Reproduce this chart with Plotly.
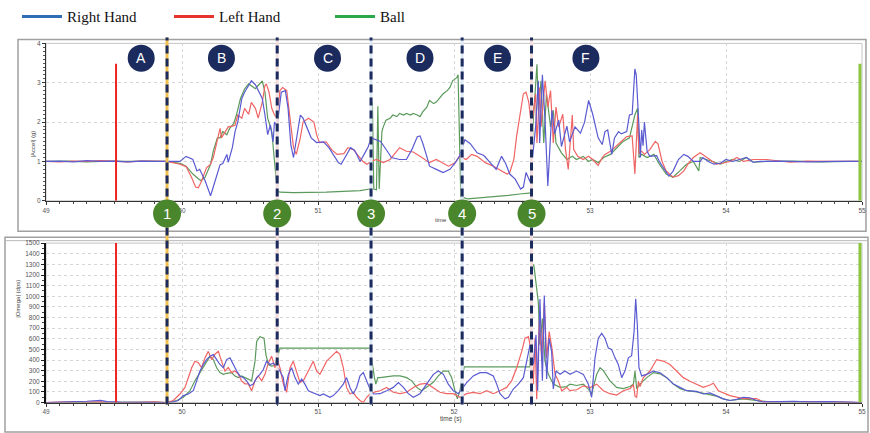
import plotly.graph_objects as go

W, H = 870, 433

# ---- |Accel| (g) : (time s, value) ----
acc_right = [
    (49.00, 1.00), (49.10, 1.01), (49.20, 0.99), (49.30, 1.02), (49.40, 1.00), (49.50, 1.01), (49.60, 0.99),
    (49.70, 1.01), (49.80, 1.00), (49.89, 1.00),
    (49.985, 1.00), (50.03, 1.13), (50.08, 1.05), (50.11, 0.76), (50.13, 0.80), (50.17, 0.51), (50.21, 0.13),
    (50.23, 0.35), (50.26, 0.68), (50.28, 0.92), (50.30, 0.95), (50.33, 1.18), (50.34, 0.98), (50.37, 1.35),
    (50.39, 1.76), (50.41, 2.00), (50.44, 2.60), (50.46, 2.76), (50.49, 2.93), (50.51, 3.05), (50.54, 2.95),
    (50.56, 2.80), (50.59, 2.60), (50.61, 2.18), (50.63, 1.68), (50.65, 1.93), (50.67, 1.50), (50.68, 2.00),
    (50.70, 1.90),
    (50.73, 2.76), (50.76, 2.80), (50.78, 2.35), (50.80, 1.43), (50.82, 1.10), (50.84, 1.50), (50.87, 2.18),
    (50.89, 2.10), (50.92, 1.85), (50.95, 1.60), (50.99, 1.48), (51.04, 1.50), (51.08, 1.35), (51.11, 1.18),
    (51.15, 0.97), (51.17, 0.93), (51.21, 1.18), (51.24, 1.35), (51.27, 1.28), (51.31, 1.00), (51.35, 1.25),
    (51.37, 1.38), (51.39, 1.60),
    (51.46, 1.51), (51.51, 1.26), (51.54, 1.10), (51.60, 1.05), (51.65, 1.05), (51.69, 1.30), (51.73, 1.63),
    (51.75, 1.65), (51.77, 1.47), (51.80, 1.13), (51.82, 0.88), (51.87, 0.80), (51.92, 0.72), (51.97, 0.80),
    (52.01, 0.97), (52.04, 1.13),
    (52.08, 1.55), (52.12, 1.45), (52.17, 1.22), (52.22, 1.15), (52.26, 1.00), (52.31, 0.80), (52.35, 1.13),
    (52.38, 0.95), (52.41, 0.68), (52.45, 0.55), (52.49, 0.30), (52.51, 0.35), (52.53, 0.72), (52.56, 0.48),
    (52.60, 1.88), (52.62, 3.05), (52.63, 1.47), (52.65, 3.20), (52.67, 2.00), (52.69, 0.38), (52.72, 2.30),
    (52.74, 1.70), (52.77, 2.05), (52.79, 1.38), (52.83, 1.90), (52.85, 1.50), (52.89, 1.88), (52.93, 1.72),
    (52.96, 2.00), (52.99, 2.55), (53.02, 2.20), (53.06, 1.60),
    (53.09, 1.43), (53.11, 1.76), (53.13, 1.80), (53.16, 1.18), (53.18, 1.60), (53.21, 1.76), (53.23, 1.70),
    (53.27, 1.76), (53.29, 2.18), (53.31, 2.20), (53.33, 3.35), (53.34, 3.20), (53.36, 1.90), (53.37, 1.10),
    (53.38, 1.80), (53.39, 1.40), (53.40, 2.00), (53.42, 1.26), (53.44, 1.13), (53.49, 1.15), (53.51, 1.00),
    (53.54, 0.84), (53.58, 0.63), (53.61, 0.75), (53.65, 1.05), (53.69, 1.18), (53.72, 1.13), (53.76, 1.00),
    (53.81, 1.00), (53.83, 1.10), (53.87, 1.00), (53.91, 0.93), (53.96, 0.96), (54.00, 1.05), (54.05, 1.00),
    (54.10, 1.05), (54.15, 1.10), (54.20, 0.98), (54.25, 1.00), (54.40, 1.01), (54.60, 0.99), (54.80, 1.00),
    (55.00, 1.00),
]

acc_left = [
    (49.00, 1.00), (49.10, 0.99), (49.20, 1.01), (49.30, 1.00), (49.40, 1.02), (49.50, 1.00), (49.60, 0.99),
    (49.70, 1.01), (49.80, 1.00), (49.89, 1.00),
    (49.985, 0.93), (50.03, 0.87), (50.07, 0.60), (50.10, 0.35), (50.12, 0.33), (50.14, 0.47), (50.18, 0.84),
    (50.21, 0.93), (50.23, 1.10), (50.26, 1.50), (50.28, 1.84), (50.29, 1.60), (50.32, 1.76), (50.34, 1.88),
    (50.37, 1.90), (50.39, 1.92), (50.41, 2.18), (50.44, 2.10), (50.46, 2.35), (50.49, 2.20), (50.51, 2.50),
    (50.54, 2.35), (50.56, 2.10), (50.59, 2.50), (50.61, 2.93), (50.62, 2.97), (50.64, 2.76), (50.66, 2.35),
    (50.68, 2.18), (50.70, 2.10),
    (50.72, 2.80), (50.74, 2.88), (50.77, 2.80), (50.79, 2.18), (50.82, 1.35), (50.84, 1.18), (50.87, 1.60),
    (50.89, 2.00), (50.93, 2.10), (50.97, 2.00), (50.99, 1.68), (51.01, 1.48), (51.06, 1.50), (51.10, 1.30),
    (51.14, 1.18), (51.19, 1.20), (51.22, 1.35), (51.26, 1.30), (51.30, 1.13), (51.33, 1.00), (51.36, 0.93),
    (51.39, 1.00),
    (51.43, 1.05), (51.48, 0.97), (51.53, 1.05), (51.60, 1.35), (51.65, 1.26), (51.70, 1.24), (51.75, 1.13),
    (51.79, 1.05), (51.82, 0.97), (51.87, 1.05), (51.91, 0.97), (51.96, 0.88), (52.01, 0.97), (52.04, 1.13),
    (52.09, 1.05), (52.13, 1.18), (52.17, 1.13), (52.23, 0.97), (52.29, 0.88), (52.35, 0.76), (52.39, 0.68),
    (52.41, 0.72), (52.44, 1.05), (52.46, 1.63), (52.49, 2.30), (52.51, 2.72), (52.53, 2.76), (52.55, 2.50),
    (52.57, 1.88),
    (52.60, 2.72), (52.61, 1.47), (52.63, 2.88), (52.64, 1.88), (52.67, 3.05), (52.69, 2.38), (52.71, 2.80),
    (52.73, 1.47), (52.75, 2.38), (52.77, 1.88), (52.80, 2.20), (52.82, 1.30), (52.84, 0.80), (52.87, 2.18),
    (52.88, 1.30), (52.91, 1.13), (52.95, 1.05), (52.99, 1.13), (53.02, 1.05), (53.06, 0.90),
    (53.09, 1.10), (53.11, 1.18), (53.15, 1.26), (53.18, 1.35), (53.23, 1.51), (53.27, 1.63), (53.31, 1.65),
    (53.33, 0.68), (53.35, 2.18), (53.36, 1.20), (53.38, 1.26), (53.40, 1.18), (53.44, 1.30), (53.48, 1.51),
    (53.50, 1.45), (53.53, 1.00), (53.56, 0.76), (53.61, 0.60), (53.65, 0.64), (53.69, 0.76), (53.72, 0.93),
    (53.76, 1.10), (53.81, 1.22), (53.85, 1.13), (53.88, 1.05), (53.93, 0.93), (53.98, 0.96), (54.03, 1.00),
    (54.08, 1.10), (54.13, 1.00), (54.20, 1.05), (54.30, 1.05), (54.47, 0.98), (54.60, 1.01), (54.80, 1.00),
    (55.00, 1.00),
]

acc_ball = [
    (49.00, 1.00), (49.15, 1.01), (49.30, 0.99), (49.45, 1.01), (49.60, 1.00), (49.75, 1.01), (49.89, 1.00),
    (49.985, 0.95), (50.03, 0.88), (50.08, 0.68), (50.12, 0.56), (50.14, 0.51), (50.17, 0.60), (50.21, 0.93),
    (50.23, 1.26), (50.26, 1.60), (50.28, 1.60), (50.30, 1.76), (50.33, 1.68), (50.35, 1.84), (50.38, 1.96),
    (50.40, 2.18), (50.43, 2.60), (50.46, 2.84), (50.49, 2.97), (50.51, 2.93), (50.54, 2.85), (50.56, 2.93),
    (50.59, 3.05), (50.61, 2.76), (50.63, 2.10), (50.66, 1.76), (50.68, 1.10), (50.70, 0.26), (50.72, 0.22),
    (50.82, 0.21), (51.06, 0.22), (51.31, 0.26), (51.38, 0.30),
    (51.39, 0.30), (51.40, 2.50), (51.41, 0.30), (51.43, 0.28), (51.44, 2.40), (51.45, 0.30), (51.47, 1.76),
    (51.48, 1.88), (51.50, 2.05), (51.53, 2.10), (51.55, 2.18), (51.58, 2.14), (51.60, 2.22), (51.63, 2.18),
    (51.65, 2.22), (51.68, 2.18), (51.70, 2.22), (51.73, 2.18), (51.75, 2.14), (51.77, 2.26), (51.80, 2.38),
    (51.82, 2.55), (51.85, 2.47), (51.87, 2.51), (51.90, 2.63), (51.92, 2.72), (51.95, 2.80), (51.97, 2.88),
    (51.99, 3.05), (52.02, 3.13), (52.03, 3.20), (52.04, 1.90), (52.05, 0.10),
    (52.10, 0.05), (52.20, 0.08), (52.30, 0.10), (52.40, 0.14), (52.50, 0.18), (52.57, 0.20),
    (52.58, 1.88), (52.61, 3.47), (52.62, 2.30), (52.64, 3.05), (52.66, 1.47), (52.68, 2.72), (52.71, 1.88),
    (52.73, 2.30), (52.75, 1.47), (52.79, 1.22), (52.83, 1.05), (52.87, 1.13), (52.90, 1.05), (52.95, 1.13),
    (52.99, 1.00), (53.02, 1.05), (53.06, 0.97),
    (53.10, 1.10), (53.15, 1.18), (53.20, 1.35), (53.24, 1.50), (53.29, 1.60), (53.33, 2.18), (53.35, 2.35),
    (53.36, 1.10), (53.38, 1.18), (53.42, 1.10), (53.47, 1.18), (53.51, 0.93), (53.56, 0.68), (53.61, 0.60),
    (53.66, 0.76), (53.71, 0.93), (53.76, 1.00), (53.80, 0.76), (53.81, 1.10), (53.86, 1.05), (53.91, 1.00),
    (53.96, 0.93), (54.00, 1.00), (54.05, 1.05), (54.10, 1.00), (54.15, 1.10), (54.20, 0.98), (54.30, 1.00),
    (54.50, 1.01), (54.70, 0.99), (54.90, 1.00), (55.00, 1.00),
]

# ---- |Omega| (dps) : (time s, value) ----
omega_right = [
    (49.00, 0), (49.10, 3), (49.20, 6), (49.30, 12), (49.40, 20), (49.45, 8), (49.55, 3), (49.65, 5),
    (49.75, 2), (49.887, 0),
    (49.936, 5), (49.973, 19), (50.010, 65), (50.046, 80), (50.083, 111), (50.108, 204), (50.132, 296),
    (50.157, 358), (50.181, 404), (50.206, 435), (50.230, 451), (50.255, 404), (50.279, 358), (50.304, 327),
    (50.328, 404), (50.353, 420), (50.377, 358), (50.402, 296), (50.426, 250), (50.451, 234), (50.475, 204),
    (50.500, 157), (50.524, 173), (50.549, 234), (50.573, 265), (50.598, 310), (50.622, 389), (50.647, 358),
    (50.671, 370), (50.696, 343),
    (50.720, 296), (50.745, 234), (50.757, 111), (50.782, 265), (50.806, 327), (50.831, 234), (50.855, 173),
    (50.880, 220), (50.904, 173), (50.929, 111), (50.953, 96), (50.990, 80), (51.014, 65), (51.039, 80),
    (51.063, 65), (51.088, 49), (51.112, 65), (51.149, 111), (51.186, 173), (51.210, 234), (51.235, 142),
    (51.259, 80), (51.284, 142), (51.309, 250), (51.333, 281), (51.358, 204), (51.382, 127), (51.407, 80),
    (51.456, 83), (51.505, 111), (51.554, 142), (51.591, 188), (51.628, 142), (51.664, 83), (51.701, 49),
    (51.750, 83), (51.799, 173), (51.848, 265), (51.885, 296), (51.922, 265), (51.958, 173), (51.995, 111),
    (52.032, 83), (52.056, 127),
    (52.093, 188), (52.142, 250), (52.191, 281), (52.240, 281), (52.289, 250), (52.314, 173), (52.338, 83),
    (52.375, 34), (52.400, 49), (52.436, 127), (52.473, 173), (52.510, 234), (52.534, 389), (52.559, 543),
    (52.583, 358), (52.603, 636), (52.615, 111), (52.632, 975), (52.650, 204), (52.664, 1006), (52.681, 222),
    (52.699, 605), (52.718, 481), (52.730, 127), (52.750, 296), (52.780, 265), (52.816, 296), (52.853, 265),
    (52.902, 296), (52.951, 265), (52.988, 173), (53.012, 49), (53.037, 420), (53.061, 605), (53.086, 651),
    (53.110, 605), (53.135, 512), (53.159, 500), (53.184, 420), (53.208, 358), (53.233, 234), (53.257, 296),
    (53.282, 420), (53.306, 440), (53.324, 667), (53.336, 975), (53.348, 729), (53.360, 327), (53.380, 250),
    (53.417, 265), (53.466, 296), (53.515, 280), (53.564, 234), (53.613, 173), (53.662, 142), (53.711, 111),
    (53.784, 105), (53.833, 80), (53.882, 90), (53.931, 60), (53.980, 34), (54.029, 19), (54.078, 30),
    (54.127, 49), (54.176, 45), (54.225, 19), (54.275, 5), (54.40, 8), (54.50, 12), (54.60, 5), (54.75, 8),
    (54.90, 3), (55.00, 0),
]

omega_left = [
    (49.00, 0), (49.10, 5), (49.20, 8), (49.30, 3), (49.40, 6), (49.515, 0), (49.60, 4), (49.70, 2),
    (49.80, 5), (49.887, 0),
    (49.936, 19), (49.985, 80), (50.022, 142), (50.046, 234), (50.071, 327), (50.095, 389), (50.120, 375),
    (50.144, 327), (50.169, 420), (50.193, 481), (50.218, 404), (50.242, 454), (50.267, 481), (50.291, 389),
    (50.316, 296), (50.340, 330), (50.365, 281), (50.389, 296), (50.414, 268), (50.438, 204), (50.463, 176),
    (50.487, 176), (50.512, 111), (50.537, 204), (50.561, 250), (50.586, 204), (50.610, 265), (50.635, 373),
    (50.659, 435), (50.684, 327), (50.701, 404),
    (50.720, 327), (50.745, 176), (50.769, 96), (50.794, 327), (50.818, 389), (50.843, 296), (50.867, 190),
    (50.892, 204), (50.916, 265), (50.941, 327), (50.965, 389), (50.990, 296), (51.014, 265), (51.039, 327),
    (51.063, 389), (51.088, 420), (51.112, 454), (51.137, 481), (51.161, 454), (51.186, 327), (51.210, 142),
    (51.235, 80), (51.259, 96), (51.284, 49), (51.309, 19), (51.333, 0), (51.358, 49), (51.382, 80),
    (51.420, 100), (51.456, 111), (51.505, 142), (51.554, 96), (51.603, 83), (51.652, 96), (51.701, 142),
    (51.750, 173), (51.799, 180), (51.848, 142), (51.897, 96), (51.946, 83), (51.995, 83), (52.044, 49),
    (52.093, 83), (52.142, 96), (52.191, 83), (52.240, 111), (52.289, 83), (52.338, 111), (52.387, 142),
    (52.424, 204), (52.461, 327), (52.498, 481), (52.522, 605), (52.547, 620), (52.559, 543),
    (52.583, 173), (52.596, 605), (52.608, 30), (52.628, 790), (52.645, 389), (52.664, 944), (52.681, 420),
    (52.700, 667), (52.720, 512), (52.743, 265), (52.767, 204), (52.792, 111), (52.829, 142), (52.853, 111),
    (52.902, 120), (52.951, 157), (53.000, 140), (53.049, 173), (53.098, 111), (53.147, 83), (53.196, 70),
    (53.245, 111), (53.294, 130), (53.319, 167), (53.331, 60), (53.343, 49), (53.356, 200), (53.368, 150),
    (53.392, 234), (53.441, 296), (53.490, 404), (53.539, 390), (53.588, 358), (53.637, 296), (53.686, 234),
    (53.735, 200), (53.784, 173), (53.833, 142), (53.882, 165), (53.907, 181), (53.944, 111), (53.980, 90),
    (54.029, 65), (54.078, 50), (54.127, 37), (54.225, 37), (54.275, 5), (54.373, 8), (54.471, 10),
    (54.569, 5), (54.70, 8), (54.85, 3), (55.00, 0),
]

omega_ball = [
    (49.00, 0), (49.20, 2), (49.40, 4), (49.60, 2), (49.80, 3), (49.887, 0),
    (49.961, 19), (50.010, 49), (50.059, 111), (50.095, 204), (50.132, 281), (50.169, 358), (50.206, 435),
    (50.230, 404), (50.255, 327), (50.279, 281), (50.304, 265), (50.328, 275), (50.365, 281), (50.389, 250),
    (50.414, 234), (50.438, 250), (50.463, 234), (50.487, 220), (50.512, 204), (50.537, 389), (50.549, 574),
    (50.573, 620), (50.603, 605), (50.617, 451), (50.635, 358), (50.659, 343), (50.684, 350), (50.701, 420),
    (50.720, 512), (51.382, 512),
    (51.395, 400), (51.405, 296), (51.415, 234), (51.425, 173), (51.440, 234), (51.456, 234), (51.505, 245),
    (51.554, 250), (51.603, 250), (51.652, 234), (51.689, 204), (51.726, 142), (51.762, 111), (51.799, 142),
    (51.848, 190), (51.885, 250), (51.922, 296), (51.958, 296), (51.983, 234), (52.007, 111), (52.025, 34),
    (52.044, 111), (52.064, 234), (52.075, 335), (52.559, 335),
    (52.571, 1315), (52.588, 1284), (52.603, 1130), (52.620, 944), (52.632, 543), (52.650, 790), (52.669, 389),
    (52.694, 265), (52.730, 173), (52.780, 142), (52.829, 150), (52.853, 173), (52.902, 160), (52.951, 173),
    (52.988, 127), (53.012, 80), (53.049, 265), (53.074, 327), (53.098, 300), (53.147, 204), (53.196, 142),
    (53.245, 130), (53.294, 150), (53.319, 173), (53.331, 296), (53.343, 130), (53.368, 173), (53.417, 234),
    (53.466, 281), (53.515, 270), (53.564, 234), (53.613, 173), (53.662, 130), (53.711, 111), (53.784, 100),
    (53.858, 80), (53.931, 60), (53.980, 34), (54.029, 19), (54.127, 34), (54.225, 19), (54.324, 5),
    (54.50, 8), (54.70, 5), (55.00, 0),
]

# start / stop markers of the recording window
marker_times = [49.515, 54.985]
marker_acc_height = 3.48
marker_omega_height = 1500

# throw events (dashed lines, numbered) and phases between them (lettered)
event_times = [49.89, 50.70, 51.39, 52.06, 52.57]
event_labels = ["1", "2", "3", "4", "5"]
phase_times = [49.70, 50.29, 51.07, 51.75, 52.32, 52.97]
phase_labels = ["A", "B", "C", "D", "E", "F"]

series_names = ["Right Hand", "Left Hand", "Ball"]
legend_colors = ["#2f6db5", "#e8322e", "#2aa84a"]
line_colors = ["#5a5ad2", "#f06464", "#5c9a5c"]

acc_ticks = [0, 1, 2, 3, 4]
omega_ticks = list(range(0, 1501, 100))
time_ticks = [49, 50, 51, 52, 53, 54, 55]

NAVY = "#1c2b5e"
GREEN_BADGE = "#4a862c"
GRID = "#d6d6d6"
TICK_FONT = dict(family="Liberation Sans", size=6.5, color="#555555")


def px_x(p):
    return p / W


def px_y(p):
    return 1 - p / H


fig = go.Figure()


def add_series(pairs, color, xa, ya):
    fig.add_trace(go.Scatter(
        x=[p[0] for p in pairs], y=[p[1] for p in pairs], mode="lines",
        line=dict(color=color, width=1.2), xaxis=xa, yaxis=ya,
        showlegend=False, hoverinfo="skip"))


# draw order: ball, left hand, right hand
add_series(acc_ball, line_colors[2], "x", "y")
add_series(acc_left, line_colors[1], "x", "y")
add_series(acc_right, line_colors[0], "x", "y")
add_series(omega_ball, line_colors[2], "x2", "y2")
add_series(omega_left, line_colors[1], "x2", "y2")
add_series(omega_right, line_colors[0], "x2", "y2")

# recording window markers
for t, col, w in zip(marker_times, ["#ee2222", "#8cc63f"], [2, 3]):
    fig.add_trace(go.Scatter(x=[t, t], y=[0, marker_acc_height], mode="lines",
                             line=dict(color=col, width=w), xaxis="x", yaxis="y",
                             showlegend=False, hoverinfo="skip"))
    fig.add_trace(go.Scatter(x=[t, t], y=[0, marker_omega_height], mode="lines",
                             line=dict(color=col, width=w), xaxis="x2", yaxis="y2",
                             showlegend=False, hoverinfo="skip"))

# legend entries (one legend box per entry so they can be spaced freely)
legend_names = ["legend", "legend2", "legend3"]
for name, col, lg in zip(series_names, legend_colors, legend_names):
    fig.add_trace(go.Scatter(x=[None], y=[None], mode="lines", name=name,
                             line=dict(color=col, width=3), legend=lg,
                             xaxis="x", yaxis="y"))

legend_x = [17, 169, 330]
legend_common = dict(orientation="h", y=px_y(10), yanchor="middle", xanchor="left",
                     font=dict(family="Liberation Serif", size=15, color="#111111"),
                     bgcolor="rgba(0,0,0,0)", borderwidth=0, itemwidth=40)

shapes = []
# panel frames
shapes.append(dict(type="rect", xref="paper", yref="paper", x0=px_x(18), x1=px_x(866),
                   y0=px_y(228), y1=px_y(33), line=dict(color="#a0a0a0", width=1.5), layer="below"))
shapes.append(dict(type="rect", xref="paper", yref="paper", x0=px_x(5), x1=px_x(868),
                   y0=px_y(432), y1=px_y(234), line=dict(color="#a0a0a0", width=1.5), layer="below"))
shapes.append(dict(type="line", xref="paper", yref="paper", x0=px_x(5), x1=px_x(868),
                   y0=px_y(237.5), y1=px_y(237.5), line=dict(color="#b8b8b8", width=1), layer="below"))
# plot-area border (light)
for xr, yr in [("x domain", "y domain"), ("x2 domain", "y2 domain")]:
    shapes.append(dict(type="rect", xref=xr, yref=yr, x0=0, x1=1, y0=0, y1=1,
                       line=dict(color="#c4c4c4", width=1), layer="below"))

# event lines
under_colors = ["#f2c14e", "#f3dede", "#dfe9f4", "#dfe9f4", "#f3dede"]
for t, uc in zip(event_times, under_colors):
    shapes.append(dict(type="line", xref="x", yref="paper", x0=t, x1=t, y0=px_y(404), y1=px_y(31),
                       line=dict(color=uc, width=3)))
    shapes.append(dict(type="line", xref="x", yref="paper", x0=t, x1=t, y0=px_y(404), y1=px_y(31),
                       line=dict(color=NAVY, width=3, dash="8px,5px")))

annotations = []
# phase badges
for t, lab in zip(phase_times, phase_labels):
    shapes.append(dict(type="circle", xref="x", yref="paper", xsizemode="pixel", ysizemode="pixel",
                       xanchor=t, yanchor=px_y(52), x0=-13.5, x1=13.5, y0=-13.5, y1=13.5,
                       fillcolor=NAVY, line=dict(width=0)))
    annotations.append(dict(x=t, y=px_y(52), xref="x", yref="paper", text=lab, showarrow=False,
                            font=dict(family="Liberation Sans", size=14, color="white"),
                            xanchor="center", yanchor="middle"))
# event badges
for t, lab in zip(event_times, event_labels):
    shapes.append(dict(type="circle", xref="x", yref="paper", xsizemode="pixel", ysizemode="pixel",
                       xanchor=t, yanchor=px_y(210), x0=-14, x1=14, y0=-14, y1=14,
                       fillcolor=GREEN_BADGE, line=dict(width=0)))
    annotations.append(dict(x=t, y=px_y(210), xref="x", yref="paper", text=lab, showarrow=False,
                            font=dict(family="Liberation Sans", size=15, color="white"),
                            xanchor="center", yanchor="middle"))

# axis titles
annotations.append(dict(x=px_x(28), y=px_y(124), xref="paper", yref="paper", text="|Accel| (g)",
                        textangle=-90, showarrow=False, font=dict(family="Liberation Sans", size=6, color="#444")))
annotations.append(dict(x=px_x(13), y=px_y(318), xref="paper", yref="paper", text="|Omega| (dps)",
                        textangle=-90, showarrow=False, font=dict(family="Liberation Sans", size=6, color="#444")))
annotations.append(dict(x=px_x(441), y=px_y(216), xref="paper", yref="paper", text="time",
                        showarrow=False, font=dict(family="Liberation Sans", size=6, color="#444")))
annotations.append(dict(x=px_x(451), y=px_y(425), xref="paper", yref="paper", text="time (s)",
                        showarrow=False, font=dict(family="Liberation Sans", size=6.5, color="#444")))

x_common = dict(range=[49, 55], domain=[px_x(46), px_x(862)], tickvals=time_ticks,
                ticktext=[str(v) for v in time_ticks], ticks="outside", ticklen=3, tickcolor="#333",
                minor=dict(dtick=0.1, ticks="outside", ticklen=2, tickcolor="#444", showgrid=False),
                showline=True, linecolor="#333", linewidth=1, showgrid=True, gridcolor=GRID,
                griddash="dot", gridwidth=1, zeroline=False, tickfont=TICK_FONT, automargin=False,
                fixedrange=True)

fig.update_layout(
    width=W, height=H, margin=dict(l=0, r=0, t=0, b=0),
    paper_bgcolor="white", plot_bgcolor="white",
    showlegend=True,
    legend=dict(x=px_x(legend_x[0]), **legend_common),
    legend2=dict(x=px_x(legend_x[1]), **legend_common),
    legend3=dict(x=px_x(legend_x[2]), **legend_common),
    xaxis=dict(anchor="y", **x_common),
    xaxis2=dict(anchor="y2", **x_common),
    yaxis=dict(anchor="x", range=[0, 4], domain=[px_y(197), px_y(37)], tickvals=acc_ticks,
               ticks="outside", ticklen=3, tickcolor="#333",
               minor=dict(dtick=0.1, ticks="outside", ticklen=2, tickcolor="#555", showgrid=False),
               showline=True, linecolor="#333", linewidth=1, showgrid=True, gridcolor=GRID,
               griddash="dot", gridwidth=1, zeroline=False, tickfont=TICK_FONT, automargin=False,
               fixedrange=True),
    yaxis2=dict(anchor="x2", range=[0, 1500], domain=[px_y(402), px_y(240)], tickvals=omega_ticks,
                ticks="outside", ticklen=3, tickcolor="#222",
                minor=dict(dtick=50, ticks="outside", ticklen=2, tickcolor="#444", showgrid=False),
                showline=True, linecolor="#111", linewidth=2, showgrid=True, gridcolor=GRID,
                griddash="dot", gridwidth=1, zeroline=False, tickfont=TICK_FONT, automargin=False,
                fixedrange=True),
    shapes=shapes,
    annotations=annotations,
)

fig.write_html("out.html")
